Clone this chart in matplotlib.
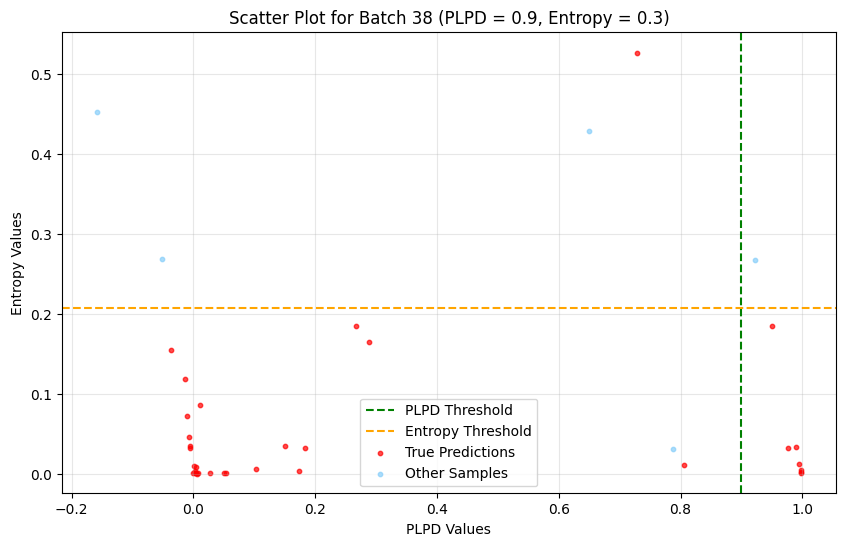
import matplotlib
matplotlib.use('Agg')
import matplotlib.pyplot as plt
import numpy as np

### Thresholds used for this batch
batch_id = 38
plpd_threshold = 0.9
entropy_setting = 0.3
entropy_threshold = 0.208

### Samples that passed (true predictions)
true_plpd = [-0.036, -0.014, 0.010, -0.010, -0.008, -0.005, -0.005,
             0.001, 0.004, 0.000, 0.002, 0.005, 0.008, 0.003, 0.006,
             0.027, 0.050, 0.054, 0.103, 0.151, 0.184, 0.173,
             0.267, 0.288, 0.728, 0.950, 0.805,
             0.977, 0.990, 0.995, 0.997, 0.997, 0.998]
true_entropy = [0.155, 0.119, 0.086, 0.073, 0.047, 0.033, 0.035,
                0.010, 0.009, 0.002, 0.001, 0.001, 0.002, 0.004, 0.000,
                0.001, 0.001, 0.001, 0.006, 0.035, 0.033, 0.004,
                0.185, 0.165, 0.527, 0.185, 0.011,
                0.033, 0.034, 0.013, 0.005, 0.003, 0.001]

### Remaining samples
other_plpd = [-0.159, -0.051, 0.650, 0.923, 0.788]
other_entropy = [0.453, 0.269, 0.429, 0.268, 0.031]

fig, ax = plt.subplots(figsize=(8.46, 5.47), dpi=100)
fig.subplots_adjust(left=0.0733, right=0.988, top=0.9415, bottom=0.098)

ax.axvline(plpd_threshold, color='green', linestyle='--', label='PLPD Threshold')
ax.axhline(entropy_threshold, color='orange', linestyle='--', label='Entropy Threshold')
ax.scatter(true_plpd, true_entropy, s=10, color='red', alpha=0.7, label='True Predictions')
ax.scatter(other_plpd, other_entropy, s=10, color='lightskyblue', alpha=0.7, label='Other Samples')

ax.set_xlim(-0.2158, 1.055)
ax.set_ylim(-0.024, 0.553)
ax.grid(True, alpha=0.3)
ax.set_title('Scatter Plot for Batch %d (PLPD = %s, Entropy = %s)' % (batch_id, plpd_threshold, entropy_setting))
ax.set_xlabel('PLPD Values')
ax.set_ylabel('Entropy Values')
ax.legend(loc='lower center')

fig.savefig('out.png', dpi=100)
